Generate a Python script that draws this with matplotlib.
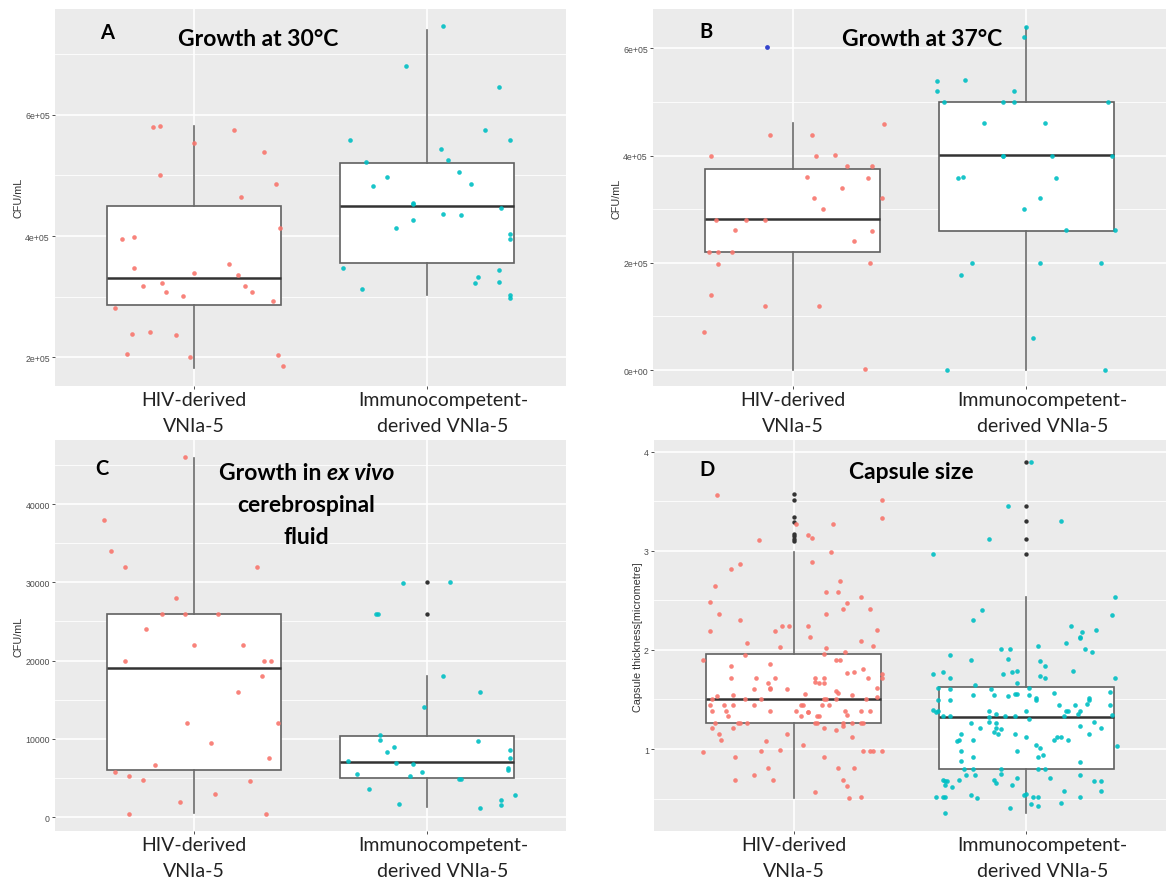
import matplotlib
matplotlib.use("Agg")
import matplotlib.pyplot as plt
import matplotlib.transforms as mtransforms

W, H = 1169, 887

# ---- panel A: growth at 30C (CFU/mL) ----
a_hiv = [5.79e5, 5.82e5, 5.75e5, 5.54e5, 5.38e5, 5.00e5, 4.86e5, 4.64e5, 4.14e5, 3.95e5,
         3.99e5, 3.48e5, 3.54e5, 3.39e5, 3.35e5, 3.17e5, 3.23e5, 3.18e5, 3.08e5, 3.08e5,
         3.01e5, 2.93e5, 2.82e5, 2.38e5, 2.42e5, 2.37e5, 2.05e5, 2.00e5, 2.03e5, 1.86e5]
a_hiv_dx = [-0.18, -0.15, 0.17, 0.00, 0.30, -0.15, 0.35, 0.20, 0.37, -0.31,
            -0.26, -0.26, 0.15, 0.00, 0.19, -0.22, -0.14, 0.22, -0.12, 0.25,
            -0.05, 0.34, -0.34, -0.27, -0.19, -0.08, -0.29, -0.02, 0.36, 0.38]
a_imm = [7.47e5, 6.80e5, 6.46e5, 5.75e5, 5.58e5, 5.58e5, 5.43e5, 5.25e5, 5.22e5, 5.05e5,
         4.97e5, 4.85e5, 4.82e5, 4.54e5, 4.53e5, 4.46e5, 4.36e5, 4.34e5, 4.26e5, 4.14e5,
         4.04e5, 3.95e5, 3.48e5, 3.44e5, 3.33e5, 3.25e5, 3.23e5, 3.13e5, 3.03e5, 2.98e5]
a_imm_dx = [0.07, -0.09, 0.31, 0.25, -0.33, 0.36, 0.06, 0.09, -0.26, 0.14,
            -0.17, 0.19, -0.23, -0.06, -0.06, 0.32, 0.07, 0.15, -0.06, -0.13,
            0.36, 0.36, -0.36, 0.31, 0.22, 0.31, 0.21, -0.28, 0.36, 0.36]
# box stats: whislo, q1, med, q3, whishi
a_box_hiv = [1.82e5, 2.86e5, 3.31e5, 4.50e5, 5.81e5]
a_box_imm = [3.02e5, 3.55e5, 4.50e5, 5.20e5, 7.40e5]

# ---- panel B: growth at 37C ----
b_hiv = [4.39e5, 4.39e5, 4.59e5, 4.00e5, 4.00e5, 4.01e5, 3.80e5, 3.80e5, 3.60e5, 3.59e5,
         3.39e5, 3.20e5, 3.20e5, 3.00e5, 2.80e5, 2.79e5, 2.79e5, 2.61e5, 2.59e5, 2.41e5,
         2.20e5, 2.20e5, 2.20e5, 1.98e5, 2.00e5, 1.39e5, 1.19e5, 1.19e5, 0.70e5, 0.02e5]
b_hiv_dx = [-0.10, 0.08, 0.39, -0.35, 0.10, 0.18, 0.23, 0.34, 0.06, 0.32,
            0.21, 0.09, 0.38, 0.13, -0.33, -0.20, -0.12, -0.25, 0.34, 0.26,
            -0.36, -0.32, -0.26, -0.32, 0.33, -0.35, -0.12, 0.11, -0.38, 0.31]
b_imm = [6.39e5, 6.21e5, 5.39e5, 5.41e5, 5.21e5, 5.21e5, 5.00e5, 5.00e5, 5.00e5, 5.00e5,
         4.60e5, 4.60e5, 4.00e5, 4.00e5, 4.00e5, 4.00e5, 3.59e5, 3.60e5, 3.59e5, 3.21e5,
         3.00e5, 2.61e5, 2.61e5, 2.00e5, 2.00e5, 2.00e5, 1.78e5, 0.59e5, 0.0, 0.0]
b_imm_dx = [0.00, -0.01, -0.38, -0.26, -0.38, -0.05, -0.35, -0.10, -0.05, 0.35,
            -0.18, 0.08, -0.10, -0.10, 0.11, 0.37, -0.29, -0.27, 0.13, 0.06,
            -0.01, 0.17, 0.38, -0.23, 0.06, 0.32, -0.28, 0.03, -0.34, 0.34]
b_extra = [6.03e5]
b_extra_dx = [-0.11]
b_box_hiv = [0.0, 2.20e5, 2.81e5, 3.74e5, 4.60e5]
b_box_imm = [0.0, 2.60e5, 4.01e5, 5.00e5, 6.39e5]

# ---- panel C: ex vivo CSF ----
c_hiv = [46000, 38000, 34000, 32000, 32000, 28000, 26000, 26000, 26000, 24000,
         22000, 22000, 20000, 20000, 20000, 18000, 16000, 12000, 12000, 9500,
         7500, 6600, 5800, 5200, 4700, 4600, 3000, 1900, 400, 400]
c_hiv_dx = [-0.04, -0.39, -0.36, -0.30, 0.27, -0.08, -0.14, -0.04, 0.10, -0.21,
            0.00, 0.21, -0.30, 0.30, 0.33, 0.29, 0.19, -0.03, 0.36, 0.07,
            0.32, -0.17, -0.34, -0.28, -0.22, 0.24, 0.09, -0.06, -0.28, 0.31]
c_imm = [29900, 30000, 26000, 26000, 18000, 16000, 14000, 10500, 9900, 9700,
         8900, 8600, 8300, 7500, 7200, 6900, 6800, 6300, 6000, 5800,
         5500, 4800, 4800, 5200, 3600, 2200, 1700, 2800, 1500, 1200]
c_imm_dx = [-0.10, 0.10, -0.22, -0.21, 0.07, 0.23, -0.01, -0.20, -0.20, 0.22,
            -0.14, 0.36, -0.17, 0.36, -0.34, -0.13, -0.06, 0.35, 0.35, -0.02,
            -0.30, 0.14, 0.15, -0.07, -0.25, 0.32, -0.12, 0.38, 0.32, 0.23]
c_out_imm = [30000, 26000]
c_box_hiv = [550, 6050, 19000, 26000, 45900]
c_box_imm = [1280, 4950, 7080, 10360, 18000]

# ---- panel D: capsule size (micrometre) ----
d_hiv = [3.56, 3.51, 3.33, 3.27, 3.27, 3.16, 3.13, 3.11, 2.99, 2.89, 2.82, 2.87, 2.70, 2.64,
         2.58, 2.58, 2.53, 2.47, 2.48, 2.41, 2.41, 2.36, 2.36, 2.30, 2.19, 2.19, 2.24, 2.24,
         2.24, 2.20, 2.13, 2.07, 2.09, 2.03, 2.04, 2.02, 1.98, 1.95, 1.96, 1.90, 1.90, 1.90,
         1.86, 1.84, 1.81, 1.77, 1.78, 1.76, 1.72, 1.72, 1.72, 1.72, 1.72, 1.72, 1.72, 1.68,
         1.67, 1.67, 1.67, 1.62, 1.61, 1.61, 1.61, 1.59, 1.62, 1.57, 1.56, 1.55, 1.55, 1.54,
         1.53, 1.50, 1.50, 1.50, 1.50, 1.50, 1.50, 1.50, 1.44, 1.44, 1.44, 1.44, 1.44, 1.44,
         1.44, 1.44, 1.38, 1.38, 1.38, 1.38, 1.37, 1.37, 1.38, 1.38, 1.38, 1.33, 1.33, 1.33,
         1.33, 1.34, 1.26, 1.26, 1.26, 1.26, 1.26, 1.26, 1.26, 1.26, 1.26, 1.26, 1.21, 1.21,
         1.21, 1.19, 1.23, 1.15, 1.15, 1.12, 1.09, 1.08, 1.04, 0.97, 0.98, 0.99, 0.98, 0.98,
         0.98, 0.98, 0.92, 0.92, 0.81, 0.81, 0.81, 0.74, 0.69, 0.69, 0.69, 0.63, 0.57, 0.51,
         0.52]
d_hiv_dx = [-0.33, 0.38, 0.38, 0.01, 0.17, 0.06, 0.08, -0.15, 0.16, 0.08, -0.27, -0.23, 0.20, -0.34,
            0.14, 0.19, 0.29, 0.23, -0.36, 0.21, 0.33, -0.32, 0.14, -0.23, -0.36, -0.08, -0.05, -0.02,
            0.06, 0.36, 0.07, -0.20, 0.29, -0.06, 0.34, 0.14, 0.22, -0.21, 0.13, -0.39, 0.18, 0.20,
            -0.10, -0.27, 0.30, 0.23, 0.26, 0.38, -0.27, -0.16, -0.08, 0.09, 0.13, 0.32, 0.38, 0.09,
            0.11, 0.13, -0.11, -0.10, -0.10, -0.17, -0.03, 0.18, 0.36, 0.19, 0.05, -0.26, 0.25, -0.33,
            0.36, -0.35, -0.21, -0.14, 0.13, 0.14, 0.31, 0.18, -0.36, -0.26, -0.30, -0.17, 0.03, 0.04,
            0.12, 0.15, -0.35, -0.29, -0.10, 0.01, 0.06, 0.06, 0.22, 0.29, 0.33, -0.28, 0.03, 0.10,
            0.11, 0.23, -0.34, -0.24, -0.23, -0.20, 0.09, 0.10, 0.21, 0.25, 0.29, 0.30, 0.13, -0.35,
            -0.26, 0.18, 0.21, -0.32, -0.03, 0.25, -0.31, -0.12, 0.04, -0.39, -0.14, -0.06, 0.30, 0.33,
            0.34, 0.38, -0.25, 0.13, -0.11, 0.19, 0.26, -0.17, -0.25, -0.09, 0.21, 0.23, 0.09, 0.24,
            0.29]
d_imm = [3.90, 3.45, 3.30, 3.12, 2.97, 2.53, 2.35, 2.40, 2.30, 2.24, 2.18, 2.20, 2.12, 2.13,
         2.07, 2.04, 2.01, 1.98, 2.01, 2.01, 1.95, 1.90, 1.91, 1.89, 1.84, 1.76, 1.78, 1.72,
         1.76, 1.78, 1.79, 1.74, 1.72, 1.79, 1.72, 1.67, 1.65, 1.62, 1.61, 1.61, 1.62, 1.58,
         1.55, 1.55, 1.54, 1.56, 1.56, 1.55, 1.57, 1.51, 1.51, 1.49, 1.49, 1.49, 1.44, 1.44,
         1.45, 1.49, 1.44, 1.39, 1.37, 1.38, 1.38, 1.35, 1.38, 1.38, 1.38, 1.38, 1.35, 1.33,
         1.33, 1.32, 1.33, 1.33, 1.33, 1.34, 1.30, 1.26, 1.27, 1.26, 1.27, 1.21, 1.21, 1.20,
         1.23, 1.21, 1.17, 1.15, 1.15, 1.15, 1.15, 1.09, 1.08, 1.09, 1.12, 1.12, 1.12, 1.09,
         1.09, 1.03, 1.04, 1.01, 0.98, 0.98, 0.94, 0.92, 0.92, 0.88, 0.87, 0.80, 0.80, 0.80,
         0.80, 0.80, 0.74, 0.74, 0.75, 0.74, 0.71, 0.71, 0.69, 0.68, 0.68, 0.69, 0.69, 0.66,
         0.68, 0.68, 0.64, 0.62, 0.64, 0.58, 0.58, 0.52, 0.52, 0.52, 0.54, 0.51, 0.54, 0.55,
         0.52, 0.52, 0.52, 0.45, 0.43, 0.46, 0.41, 0.35]
d_imm_dx = [0.02, -0.08, 0.15, -0.16, -0.40, 0.38, 0.37, -0.19, -0.23, 0.19, 0.24, 0.30, 0.23, 0.23,
            0.17, 0.05, 0.25, 0.28, -0.11, -0.07, -0.33, -0.24, -0.08, 0.06, 0.08, -0.40, -0.36, -0.33,
            -0.10, -0.06, -0.04, 0.06, 0.08, 0.20, 0.38, -0.04, -0.22, -0.38, -0.33, -0.15, 0.01, 0.36,
            -0.23, -0.14, -0.08, -0.05, -0.04, 0.01, 0.12, 0.04, 0.27, -0.38, -0.33, 0.04, 0.14, 0.21,
            0.26, 0.27, 0.36, -0.40, -0.39, -0.38, -0.16, -0.13, 0.00, 0.17, 0.18, 0.23, 0.22, -0.36,
            -0.33, -0.16, -0.09, -0.05, 0.16, 0.37, 0.01, -0.24, -0.16, -0.13, 0.29, -0.20, -0.13, -0.11,
            0.23, 0.32, -0.14, -0.12, -0.28, -0.05, 0.27, -0.29, -0.30, -0.23, 0.00, 0.13, 0.15, 0.12,
            0.18, 0.39, 0.04, 0.06, -0.28, -0.04, 0.07, -0.23, 0.05, -0.28, 0.23, -0.27, -0.23, -0.11,
            0.05, 0.08, -0.26, -0.22, -0.11, 0.23, -0.04, 0.10, -0.36, -0.35, -0.34, -0.29, -0.14, -0.13,
            0.29, 0.32, -0.35, -0.32, -0.06, 0.16, 0.32, -0.39, -0.36, -0.35, -0.24, -0.21, -0.01, 0.00,
            0.03, 0.05, 0.23, 0.02, 0.05, 0.15, -0.07, -0.35]
d_out_hiv = [3.57, 3.51, 3.34, 3.29, 3.17, 3.15, 3.12, 3.10]
d_out_imm = [3.90, 3.45, 3.30, 3.12, 2.97]
d_box_hiv = [0.51, 1.26, 1.50, 1.96, 2.99]
d_box_imm = [0.35, 0.80, 1.32, 1.63, 2.53]

groups_top = ["HIV-derived\nVNIa-5", "Immunocompetent-\nderived VNIa-5"]

RED = "#F8766D"
CYAN = "#00BFC4"
PANEL = "#EBEBEB"


def frac(x0, y0, x1, y1):
    return [x0 / W, 1 - y1 / H, (x1 - x0) / W, (y1 - y0) / H]


def draw_panel(ax, hiv, hiv_dx, imm, imm_dx, box_hiv, box_imm, ylim, major, minor, ticklabels,
               out_hiv=(), out_imm=()):
    ax.set_facecolor(PANEL)
    for s in ax.spines.values():
        s.set_visible(False)
    for m in minor:
        ax.axhline(m, color="white", lw=0.6, zorder=0)
    for m in major:
        ax.axhline(m, color="white", lw=1.2, zorder=0)
    for xc in (1, 2):
        ax.axvline(xc, color="white", lw=1.2, zorder=0)
    stats = []
    for b in (box_hiv, box_imm):
        stats.append(dict(whislo=b[0], q1=b[1], med=b[2], q3=b[3], whishi=b[4], fliers=[]))
    ax.bxp(stats, positions=[1, 2], widths=0.75, patch_artist=True, showcaps=False,
           showfliers=False,
           boxprops=dict(facecolor="white", edgecolor="#606060", lw=1.2),
           whiskerprops=dict(color="#6a6a6a", lw=1.2),
           medianprops=dict(color="#333333", lw=1.8), zorder=2)
    if len(out_hiv):
        ax.scatter([1] * len(out_hiv), out_hiv, s=10, color="#333333", zorder=3, linewidths=0)
    if len(out_imm):
        ax.scatter([2] * len(out_imm), out_imm, s=10, color="#333333", zorder=3, linewidths=0)
    ax.scatter([1 + d for d in hiv_dx], hiv, s=11, color=RED, alpha=0.9, zorder=4, linewidths=0)
    ax.scatter([2 + d for d in imm_dx], imm, s=11, color=CYAN, alpha=0.9, zorder=4, linewidths=0)
    ax.set_xlim(0.4, 2.6)
    ax.set_ylim(*ylim)
    ax.set_yticks(major)
    ax.set_yticklabels(ticklabels, fontsize=6.3, color="#4D4D4D", family="Liberation Sans")
    ax.set_xticks([1, 2])
    ax.set_xticklabels(["", ""])
    ax.tick_params(axis="both", length=2.2, width=0.6, color="#333333", pad=1.5)
    trans = mtransforms.blended_transform_factory(ax.transData, ax.transAxes)
    for xc, lab in zip((1.0, 2.07), groups_top):
        ax.text(xc, -0.012, lab, transform=trans, ha="center", va="top", fontsize=14,
                family="Lato", linespacing=1.65, color="#222222")


fig = plt.figure(figsize=(W / 100, H / 100), dpi=100)

axA = fig.add_axes(frac(55, 10, 566, 387))
draw_panel(axA, a_hiv, a_hiv_dx, a_imm, a_imm_dx, a_box_hiv, a_box_imm, (1.527e5, 7.743e5),
           [2e5, 4e5, 6e5], [3e5, 5e5, 7e5], ["2e+05", "4e+05", "6e+05"])
axB = fig.add_axes(frac(653, 10, 1166, 387))
draw_panel(axB, b_hiv, b_hiv_dx, b_imm, b_imm_dx, b_box_hiv, b_box_imm, (-2.98e4, 6.733e5),
           [0, 2e5, 4e5, 6e5], [1e5, 3e5, 5e5], ["0e+00", "2e+05", "4e+05", "6e+05"])
axB.scatter([1 + d for d in b_extra_dx], b_extra, s=12, color="#3344CC", zorder=4, linewidths=0)
axC = fig.add_axes(frac(55, 441, 566, 832))
draw_panel(axC, c_hiv, c_hiv_dx, c_imm, c_imm_dx, c_box_hiv, c_box_imm, (-1789, 48179),
           [0, 10000, 20000, 30000, 40000], [5000, 15000, 25000, 35000, 45000],
           ["0", "10000", "20000", "30000", "40000"], out_imm=c_out_imm)
axD = fig.add_axes(frac(654, 441, 1166, 832))
draw_panel(axD, d_hiv, d_hiv_dx, d_imm, d_imm_dx, d_box_hiv, d_box_imm, (0.173, 4.118),
           [1, 2, 3, 4], [0.5, 1.5, 2.5, 3.5], ["1", "2", "3", "4"],
           out_hiv=d_out_hiv, out_imm=d_out_imm)


def ftext(x, y, s, **kw):
    fig.text(x / W, 1 - y / H, s, **kw)


ylab = dict(rotation=90, ha="center", va="center", fontsize=7.8, color="#333333",
            family="Liberation Sans")
ftext(18, 198, "CFU/mL", **ylab)
ftext(616, 199, "CFU/mL", **ylab)
ftext(18, 637, "CFU/mL", **ylab)
ftext(638, 637, "Capsule thickness[micrometre]", **ylab)

big = dict(family="Lato", weight="bold", color="black", va="center")
ftext(107, 33, "A", ha="center", fontsize=14.5, **big)
ftext(706, 32, "B", ha="center", fontsize=14.5, **big)
ftext(102, 469, "C", ha="center", fontsize=14.5, **big)
ftext(707, 470, "D", ha="center", fontsize=14.5, **big)

ftext(258, 40, "Growth at 30°C", ha="center", fontsize=16.5, **big)
ftext(922, 40, "Growth at 37°C", ha="center", fontsize=16.5, **big)
ftext(911, 473, "Capsule size", ha="center", fontsize=16.5, **big)
ftext(321, 474, "Growth in", ha="right", fontsize=16.5, **big)
ftext(327, 474, "ex vivo", ha="left", fontsize=16.5, style="italic", **big)
ftext(306, 506, "cerebrospinal", ha="center", fontsize=16.5, **big)
ftext(306, 537, "fluid", ha="center", fontsize=16.5, **big)

fig.savefig("out.png", dpi=100, facecolor="white")
